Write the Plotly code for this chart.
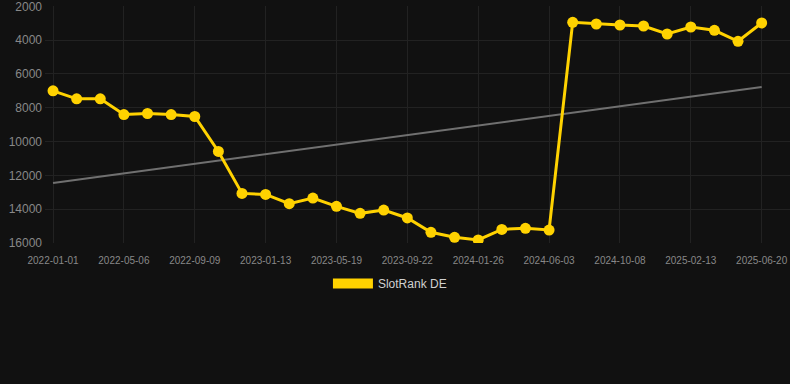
import numpy as np
import plotly.graph_objects as go

dates = [
    "2022-01-01", "2022-02-12", "2022-03-26", "2022-05-06", "2022-06-17",
    "2022-07-29", "2022-09-09", "2022-10-21", "2022-12-02", "2023-01-13",
    "2023-02-24", "2023-04-07", "2023-05-19", "2023-06-30", "2023-08-11",
    "2023-09-22", "2023-11-03", "2023-12-15", "2024-01-26", "2024-03-08",
    "2024-04-21", "2024-06-03", "2024-07-15", "2024-08-26", "2024-10-08",
    "2024-11-19", "2025-01-01", "2025-02-13", "2025-03-27", "2025-05-08",
    "2025-06-20",
]
rank_de = [
    7000, 7470, 7470, 8400, 8340, 8400, 8516, 10584, 13065, 13124,
    13677, 13341, 13832, 14246, 14050, 14520, 15368, 15664, 15822, 15194,
    15132, 15232, 2945, 3045, 3104, 3163, 3636, 3222, 3418, 4067,
    2984,
]
tick_labels = dates[::3]
y_ticks = [2000, 4000, 6000, 8000, 10000, 12000, 14000, 16000]
y_tick_text = [str(v) for v in y_ticks]

idx = np.arange(len(rank_de))
slope, intercept = np.polyfit(idx, rank_de, 1)
trend = [intercept + slope * i for i in idx]

gold = "#FFD200"
fig = go.Figure()
fig.add_trace(go.Scatter(
    x=dates, y=trend, mode="lines",
    line=dict(color="#707070", width=2),
    showlegend=False, hoverinfo="skip",
))
fig.add_trace(go.Scatter(
    x=dates, y=rank_de, mode="lines+markers",
    line=dict(color=gold, width=3),
    marker=dict(color=gold, size=11),
    showlegend=False, name="SlotRank DE",
))
fig.add_trace(go.Scatter(
    x=[None], y=[None], mode="lines",
    line=dict(color=gold, width=10),
    name="SlotRank DE", showlegend=True,
))

fig.update_layout(
    width=790, height=384,
    paper_bgcolor="#111111", plot_bgcolor="#111111",
    margin=dict(l=45, r=0, t=6, b=141),
    font=dict(family="Liberation Sans, Arial, sans-serif", color="#8a8a8a"),
    showlegend=True,
    legend=dict(
        orientation="h", x=0.463, xanchor="center", y=-0.11, yanchor="top",
        font=dict(size=12, color="#d0d0d0"),
        itemwidth=40, bgcolor="rgba(0,0,0,0)",
    ),
)
fig.update_xaxes(
    type="category",
    categoryorder="array", categoryarray=dates,
    tickmode="array", tickvals=tick_labels, ticktext=tick_labels,
    range=[-0.34, 31.2],
    showgrid=True, gridcolor="#222222", gridwidth=1,
    zeroline=False, showline=False,
    ticks="", tickfont=dict(size=10, color="#888888"),
    ticklabelstandoff=10, ticklabeloverflow="allow",
)
fig.update_yaxes(
    autorange=False, range=[16000, 1980],
    tickmode="array", tickvals=y_ticks, ticktext=y_tick_text,
    showgrid=True, gridcolor="#222222", gridwidth=1,
    zeroline=False, showline=False,
    ticks="", tickfont=dict(size=12, color="#888888"),
    ticklabelstandoff=2, ticklabeloverflow="allow",
)
fig.write_html("out.html", config={"displayModeBar": False})

with open("out.html", "r", encoding="utf-8") as f:
    html = f.read()
html = html.replace(
    "<head>",
    "<head><style>html,body{margin:0;padding:0;background:#111111;}</style>",
    1,
)
with open("out.html", "w", encoding="utf-8") as f:
    f.write(html)
